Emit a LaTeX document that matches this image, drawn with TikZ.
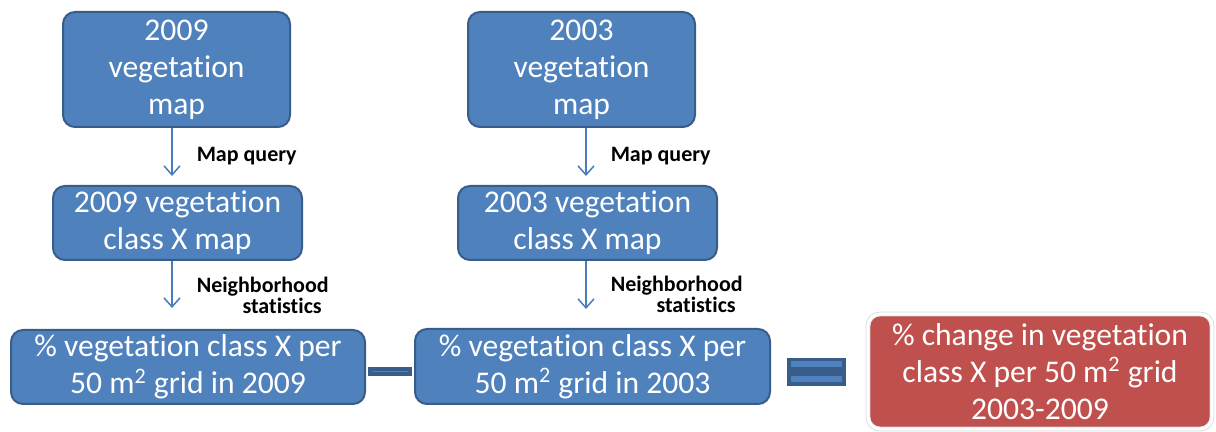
\documentclass[tikz,border=0pt]{standalone}
\usepackage{fontspec}
\setmainfont{Carlito}[Ligatures=NoCommon]
\usetikzlibrary{positioning, arrows.meta}
\definecolor{boxblue}{HTML}{4F81BD}
\definecolor{boxdark}{HTML}{385D8A}
\definecolor{flowblue}{HTML}{4A7EBB}
\definecolor{boxred}{HTML}{C0504D}

\begin{document}
\begin{tikzpicture}[x=.5pt, y=-.5pt,
  box/.style={draw=boxdark, line width=1pt, fill=boxblue, rounded corners=6pt, text=white, align=center, inner sep=0pt, font=\fontsize{15.8}{18.5}\selectfont},
  redbox/.style={box, fill=boxred, draw=black!15, line width=.4pt, double=white, double distance=1.6pt},
  flow/.style={draw=flowblue, line width=.75pt, -{Straight Barb[length=4.5pt, width=8pt]}},
  lbl/.style={inner sep=0pt, anchor=west, font=\fontsize{11}{10.5}\selectfont\bfseries, align=right}]
\useasboundingbox (0,0) rectangle (1216,432);
% Boxes
\node[box, minimum width=113.5pt, minimum height=57.5pt] (m09) at (176.5,69.5) {\vphantom{Xg}2009\\vegetation\\map};
\node[box, minimum width=113.5pt, minimum height=57.5pt] (m03) at (581.5,69.5) {\vphantom{Xg}2003\\vegetation\\map};
\node[box, minimum width=124.5pt, minimum height=37pt] (c09) at (177.5,223) {2009 vegetation\\class X map};
\node[box, minimum width=129.5pt, minimum height=37pt] (c03) at (587.5,223) {2003 vegetation\\class X map};
\node[box, minimum width=177pt, minimum height=37pt] (p09) at (188,367) {\% vegetation class X per\\50 m\textsuperscript{2} grid in 2009};
\node[box, minimum width=177.5pt, minimum height=37.5pt] (p03) at (592.5,366.5) {\% vegetation class X per\\50 m\textsuperscript{2} grid in 2003};
\node[redbox, minimum width=172pt, minimum height=57.5pt] (chg) at (1040,371.5) {\% change in vegetation\\class X per 50 m\textsuperscript{2} grid\\2003-2009};
% Operators
\node[draw=boxdark, fill=boxblue, line width=2pt, minimum width=20pt, minimum height=2.5pt, inner sep=0pt] (minus) at (390,371.5) {};
\node[fill=boxdark, minimum width=29.5pt, minimum height=14pt, inner sep=0pt,
  path picture={
    \fill[boxblue] ([xshift=2pt,yshift=-1.5pt]path picture bounding box.north west) rectangle ([xshift=-2pt,yshift=-4.5pt]path picture bounding box.north east);
    \fill[boxblue] ([xshift=2pt,yshift=2pt]path picture bounding box.south west) rectangle ([xshift=-2pt,yshift=5pt]path picture bounding box.south east);
  }] (equals) at (816.5,372) {};
% Arrows
\draw[flow, shorten >=4.5pt] ([xshift=-2.25pt]m09.south) -- ([xshift=-2.25pt]m09.south |- c09.north)
  node[lbl, midway, xshift=12pt] (q09) {Map query};
\draw[flow, shorten >=4.5pt] ([xshift=2.25pt]m03.south) -- ([xshift=2.25pt]m03.south |- c03.north)
  node[lbl, midway, xshift=12pt] (q03) {Map query};
\draw[flow, shorten >=10.5pt] ([xshift=-2.75pt]c09.south) -- ([xshift=-2.75pt]c09.south |- p09.north)
  node[lbl, midway, xshift=12pt] (n09) {Neighborhood\\statistics\hspace*{3.5pt}};
\draw[flow, shorten >=9.5pt] ([xshift=-.75pt]c03.south) -- ([xshift=-.75pt]c03.south |- p03.north)
  node[lbl, midway, xshift=12pt] (n03) {Neighborhood\\statistics\hspace*{3.5pt}};
\end{tikzpicture}
\end{document}
